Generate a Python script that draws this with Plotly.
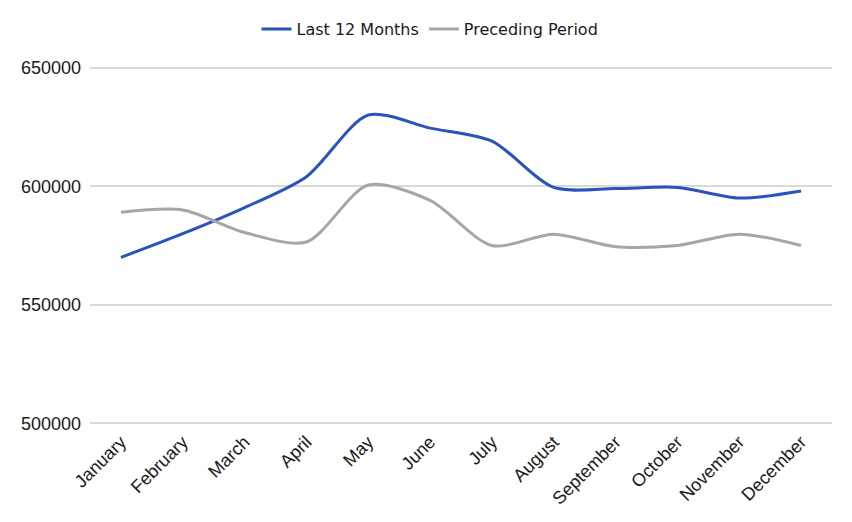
import plotly.graph_objects as go

months = ['January', 'February', 'March', 'April', 'May', 'June',
          'July', 'August', 'September', 'October', 'November', 'December']

last_12 = [570000, 580000, 591000, 604000, 630000, 624500,
           619000, 599500, 599000, 599500, 595000, 598000]
preceding = [589000, 590000, 580500, 576500, 600500, 594000,
             575000, 579800, 574500, 575000, 579800, 575000]

fig = go.Figure()

fig.add_trace(go.Scatter(x=months,
                         y=last_12,
                         mode='lines',
                         line=dict(color='#2a53bd', width=3, shape='spline', smoothing=0.8),
                         name='Last 12 Months'))
fig.add_trace(go.Scatter(x=months,
                         y=preceding,
                         mode='lines',
                         line=dict(color='#a6a6a6', width=3, shape='spline', smoothing=0.8),
                         name='Preceding Period'))

# page body has an 8px margin, so the figure is a bit smaller than the window
fig.update_layout(width=844, height=514,
                  margin=dict(l=82, r=20, t=48, b=95),
                  plot_bgcolor='white',
                  paper_bgcolor='white',
                  font=dict(family='Liberation Sans, Arial', size=18, color='#1a1a1a'),
                  legend=dict(orientation='h',
                              xref='container', yref='container',
                              x=0.5, xanchor='center',
                              y=1 - 21 / 514, yanchor='middle',
                              font=dict(family='DejaVu Sans', size=16, color='#1a1a1a'),
                              itemwidth=30),
                  showlegend=True)

fig.update_xaxes(tickangle=-45,
                 showgrid=False,
                 showline=False,
                 ticks='',
                 range=[-0.5, 11.5])
# pad the range a little so the 500000/650000 grid lines are still drawn
fig.update_yaxes(range=[498500, 651500],
                 tickvals=[500000, 550000, 600000, 650000],
                 tickformat='d',
                 gridcolor='#d9d9d9',
                 gridwidth=1.5,
                 zeroline=False,
                 showline=False,
                 ticklabelstandoff=8)

fig.write_html("out.html")
